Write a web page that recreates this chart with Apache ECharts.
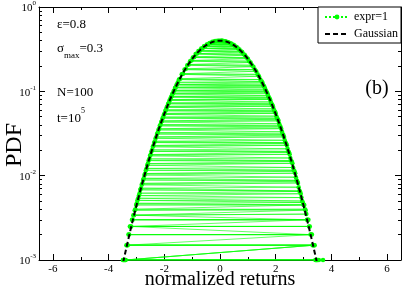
<!DOCTYPE html>
<html>
<head>
<meta charset="utf-8">
<script src="https://cdn.jsdelivr.net/npm/echarts@6/dist/echarts.min.js"></script>
<style>
html,body{margin:0;padding:0;background:#fff;}
#chart{width:403px;height:290px;}
</style>
</head>
<body>
<div id="chart"></div>
<script>
// negative-side histogram points (normalized return, PDF)
const negX = [-0.025,-0.075,-0.125,-0.175,-0.225,-0.275,-0.325,-0.375,-0.425,-0.475,
  -0.525,-0.575,-0.625,-0.675,-0.725,-0.775,-0.825,-0.875,-0.925,-0.975,
  -1.025,-1.075,-1.125,-1.175,-1.225,-1.275,-1.325,-1.375,-1.425,-1.475,
  -1.5125,-1.5375,-1.5625,-1.5875,-1.6125,-1.6375,-1.6625,-1.6875,-1.7125,-1.7375,
  -1.7625,-1.7875,-1.8125,-1.8375,-1.8625,-1.8875,-1.9125,-1.9375,-1.9625,-1.9875,
  -2.0125,-2.0375,-2.0625,-2.0875,-2.1125,-2.1375,-2.1625,-2.1875,-2.2125,-2.2375,
  -2.2625,-2.2875,-2.3125,-2.3375,-2.3625,-2.3875,-2.4125,-2.4375,-2.4625,-2.4875,
  -2.5125,-2.5375,-2.5625,-2.5875,-2.6125,-2.6375,-2.6625,-2.6875,-2.7125,-2.7375,
  -2.7625,-2.7875,-2.8125,-2.8375,-2.8625,-2.8875,-2.9125,-2.9375,-2.9625,-2.9875,
  -3.0125,-3.0375,-3.0625,-3.0875,-3.1125,-3.1375,-3.1625,-3.1875,-3.2125,-3.2375,
  -3.2625,-3.2875,-3.3125,-3.3375,-3.3625,-3.3875,-3.4125,-3.4375,-3.4625,-3.4875];
const negPdf = [0.397,0.399,0.394,0.395,0.386,0.387,0.375,0.375,0.361,0.360,
  0.344,0.342,0.324,0.322,0.302,0.300,0.280,0.277,0.256,0.252,
  0.232,0.228,0.208,0.204,0.185,0.181,0.162,0.159,0.141,0.138,
  0.128,0.121,0.119,0.112,0.110,0.103,0.101,0.0950,0.0930,0.0872,
  0.0853,0.0798,0.0781,0.0729,0.0712,0.0664,0.0647,0.0603,0.0588,0.0547,
  0.0532,0.0495,0.0481,0.0446,0.0433,0.0402,0.0390,0.0360,0.0349,0.0323,
  0.0312,0.0288,0.0278,0.0256,0.0247,0.0228,0.0220,0.0202,0.0194,0.0178,
  0.0172,0.0158,0.0151,0.0139,0.0133,0.0122,0.0116,0.0106,0.0102,0.0093,
  0.0089,0.0081,0.0078,0.0071,0.0068,0.0062,0.0058,0.0054,0.0051,0.0047,
  0.0045,0.0040,0.0039,0.0034,0.0034,0.0030,0.0030,0.0025,0.0025,0.0025,
  0.0020,0.0020,0.0015,0.0015,0.0015,0.0010,0.0010,0.0010,0.0010,0.0010];
// positive-side histogram points
const posX = [0.05,0.10,0.15,0.20,0.25,0.30,0.35,0.40,0.45,0.50,
  0.55,0.60,0.65,0.70,0.75,0.80,0.85,0.90,0.95,1.00,
  1.05,1.10,1.15,1.20,1.25,1.30,1.35,1.40,1.45,
  1.500,1.525,1.550,1.575,1.600,1.625,1.650,1.675,1.700,1.725,
  1.750,1.775,1.800,1.825,1.850,1.875,1.900,1.925,1.950,1.975,
  2.000,2.025,2.050,2.075,2.100,2.125,2.150,2.175,2.200,2.225,
  2.250,2.275,2.300,2.325,2.350,2.375,2.400,2.425,2.450,2.475,
  2.500,2.525,2.550,2.575,2.600,2.625,2.650,2.675,2.700,2.725,
  2.750,2.775,2.800,2.825,2.850,2.875,2.900,2.925,2.950,2.975,
  3.000,3.025,3.050,3.075,3.100,3.125,3.150,3.175,3.200,3.225,
  3.250,3.275,3.300,3.325,3.350,3.375,3.400,3.425,3.450,3.475,
  3.500,3.550,3.700];
const posPdf = [0.401,0.399,0.393,0.392,0.385,0.383,0.373,0.370,0.358,0.354,
  0.341,0.335,0.321,0.314,0.299,0.292,0.276,0.268,0.252,0.244,
  0.228,0.220,0.204,0.196,0.181,0.173,0.159,0.151,0.138,
  0.131,0.126,0.119,0.116,0.112,0.106,0.101,0.0985,0.0951,0.0895,
  0.0853,0.0830,0.0801,0.0748,0.0712,0.0692,0.0665,0.0619,0.0588,0.0571,
  0.0548,0.0508,0.0481,0.0467,0.0447,0.0412,0.0390,0.0378,0.0361,0.0331,
  0.0312,0.0303,0.0288,0.0263,0.0247,0.0240,0.0229,0.0208,0.0194,0.0189,
  0.0179,0.0162,0.0151,0.0147,0.0140,0.0125,0.0116,0.0113,0.0107,0.0096,
  0.0088,0.0086,0.0082,0.0073,0.0066,0.0065,0.0061,0.0055,0.0050,0.0048,
  0.0045,0.0045,0.0040,0.0039,0.0035,0.0030,0.0030,0.0030,0.0025,0.0025,
  0.0020,0.0020,0.0020,0.0015,0.0015,0.0015,0.0015,0.0010,0.0010,0.0010,
  0.0010,0.0010,0.0010];
// Gaussian reference curve
const gaussX = [-3.6,-3.5,-3.4,-3.3,-3.2,-3.1,-3.0,-2.9,-2.8,-2.7,-2.6,-2.5,-2.4,-2.3,-2.2,-2.1,-2.0,
  -1.9,-1.8,-1.7,-1.6,-1.5,-1.4,-1.3,-1.2,-1.1,-1.0,-0.9,-0.8,-0.7,-0.6,-0.5,-0.4,-0.3,-0.2,-0.1,
  0,0.1,0.2,0.3,0.4,0.5,0.6,0.7,0.8,0.9,1.0,1.1,1.2,1.3,1.4,1.5,1.6,1.7,1.8,1.9,
  2.0,2.1,2.2,2.3,2.4,2.5,2.6,2.7,2.8,2.9,3.0,3.1,3.2,3.3,3.4,3.5,3.6];
const gaussPdf = [0.000612,0.000873,0.00123,0.00172,0.00238,0.00327,0.00443,0.00595,0.00792,0.0104,0.0136,0.0175,0.0224,0.0283,0.0355,0.0440,0.0540,
  0.0656,0.0790,0.0940,0.1109,0.1295,0.1497,0.1714,0.1942,0.2179,0.2420,0.2661,0.2897,0.3123,0.3332,0.3521,0.3683,0.3814,0.3910,0.3970,
  0.3989,0.3970,0.3910,0.3814,0.3683,0.3521,0.3332,0.3123,0.2897,0.2661,0.2420,0.2179,0.1942,0.1714,0.1497,0.1295,0.1109,0.0940,0.0790,0.0656,
  0.0540,0.0440,0.0355,0.0283,0.0224,0.0175,0.0136,0.0104,0.00792,0.00595,0.00443,0.00327,0.00238,0.00172,0.00123,0.000873,0.000612];
// tick values
const xMajorTicks = [-6,-4,-2,0,2,4,6];
const xMinorTicks = [-5,-3,-1,1,3,5];
const yMajorTicks = [0.001,0.01,0.1,1];
const yMinorTicks = [0.002,0.003,0.004,0.005,0.006,0.007,0.008,0.009,
  0.02,0.03,0.04,0.05,0.06,0.07,0.08,0.09,0.2,0.3,0.4,0.5,0.6,0.7,0.8,0.9];

// points in recorded order: both sides interleaved by |return|
const exprData = [];
const nN = Math.min(negX.length, negPdf.length), nP = Math.min(posX.length, posPdf.length);
for (let i = 0; i < nN; i++) exprData.push([negX[i], negPdf[i]]);
for (let i = 0; i < nP; i++) exprData.push([posX[i], posPdf[i]]);
exprData.sort((a, b) => Math.abs(a[0]) - Math.abs(b[0]));
const gaussData = gaussX.map((x, i) => [x, gaussPdf[i]]);

const SERIF = "'Liberation Serif','Times New Roman','DejaVu Serif',serif";
const chart = echarts.init(document.getElementById('chart'), null, {renderer: 'canvas'});

function xAxisDef(pos, ticks, len, showLine, showLabel) {
  return {
    type: 'value', position: pos, min: -6.5, max: 6.5,
    axisLine: {show: showLine, onZero: false, lineStyle: {color: '#000', width: 1}},
    axisTick: {show: true, inside: true, length: len, customValues: ticks, lineStyle: {color: '#000', width: 1}},
    axisLabel: {show: showLabel, customValues: ticks, margin: 4, color: '#000', fontFamily: SERIF, fontSize: 11},
    splitLine: {show: false}
  };
}
function yAxisDef(pos, ticks, len, showLine, showLabel) {
  return {
    type: 'log', logBase: 10, position: pos, min: 0.001, max: 1,
    axisLine: {show: showLine, onZero: false, lineStyle: {color: '#000', width: 1}},
    axisTick: {show: true, inside: true, length: len, customValues: ticks, lineStyle: {color: '#000', width: 1}},
    axisLabel: {
      show: showLabel, customValues: ticks, margin: 3, color: '#000',
      formatter: v => '{b|10}{s|' + Math.round(Math.log10(v)) + '}',
      rich: {
        b: {fontFamily: SERIF, fontSize: 11, lineHeight: 14, verticalAlign: 'bottom', color: '#000'},
        s: {fontFamily: SERIF, fontSize: 7, lineHeight: 14, verticalAlign: 'top', color: '#000'}
      }
    },
    splitLine: {show: false}
  };
}

chart.setOption({
  animation: false,
  backgroundColor: '#fff',
  grid: {left: 39, right: 2, top: 7, bottom: 30, containLabel: false},
  xAxis: [
    xAxisDef('bottom', xMajorTicks, 6, true, true),
    xAxisDef('bottom', xMinorTicks, 3, false, false),
    xAxisDef('top', xMajorTicks, 6, true, false),
    xAxisDef('top', xMinorTicks, 3, false, false)
  ],
  yAxis: [
    yAxisDef('left', yMajorTicks, 6, true, true),
    yAxisDef('left', yMinorTicks, 3, false, false),
    yAxisDef('right', yMajorTicks, 6, true, false),
    yAxisDef('right', yMinorTicks, 3, false, false)
  ],
  legend: {
    right: 2, top: 7, orient: 'vertical',
    data: [{name: 'expr=1', lineStyle: {type: 'dotted', opacity: 1}},
           {name: 'Gaussian', itemStyle: {opacity: 0}}],
    itemWidth: 24, itemHeight: 6, itemGap: 5,
    padding: [4, 3, 3, 6],
    borderColor: '#000', borderWidth: 1, borderRadius: 0, backgroundColor: '#fff',
    textStyle: {fontFamily: SERIF, fontSize: 12, color: '#000'}
  },
  series: [
    {
      name: 'expr=1', type: 'line', data: exprData,
      xAxisIndex: 0, yAxisIndex: 0,
      symbol: 'circle', symbolSize: 4.5, showSymbol: true, showAllSymbol: true,
      itemStyle: {color: '#00ff00'},
      lineStyle: {color: '#00ff00', width: 1, opacity: 0.6, type: 'solid'},
      clip: true, z: 2
    },
    {
      name: 'Gaussian', type: 'line', data: gaussData,
      xAxisIndex: 0, yAxisIndex: 0,
      symbol: 'none', showSymbol: false,
      itemStyle: {color: '#000'},
      lineStyle: {color: '#000', width: 2, type: [5, 3]},
      clip: true, z: 3
    }
  ],
  graphic: [
    {type: 'text', left: 57, top: 18, style: {text: 'ε=0.8', font: '13px ' + SERIF, fill: '#000'}},
    {type: 'text', left: 57, top: 42, style: {
      text: '{a|σ}{s|max}{a|=0.3}', fill: '#000',
      rich: {
        a: {fontFamily: SERIF, fontSize: 13, lineHeight: 18, verticalAlign: 'top'},
        s: {fontFamily: SERIF, fontSize: 9, lineHeight: 18, verticalAlign: 'bottom'}
      }
    }},
    {type: 'text', left: 57, top: 86, style: {text: 'N=100', font: '13px ' + SERIF, fill: '#000'}},
    {type: 'text', left: 57, top: 107, style: {
      text: '{a|t=10}{s|5}', fill: '#000',
      rich: {
        a: {fontFamily: SERIF, fontSize: 13, lineHeight: 18, verticalAlign: 'bottom'},
        s: {fontFamily: SERIF, fontSize: 8, lineHeight: 18, verticalAlign: 'top'}
      }
    }},
    {type: 'text', x: 377, y: 89, style: {text: '(b)', font: '20px ' + SERIF, fill: '#000', align: 'center', verticalAlign: 'middle'}},
    {type: 'text', x: 15, y: 145, rotation: Math.PI / 2, style: {text: 'PDF', font: '24px ' + SERIF, fill: '#000', align: 'center', verticalAlign: 'middle'}},
    {type: 'text', x: 220, y: 280, style: {text: 'normalized returns', font: '20px ' + SERIF, fill: '#000', align: 'center', verticalAlign: 'middle'}}
  ]
});
</script>
</body>
</html>
